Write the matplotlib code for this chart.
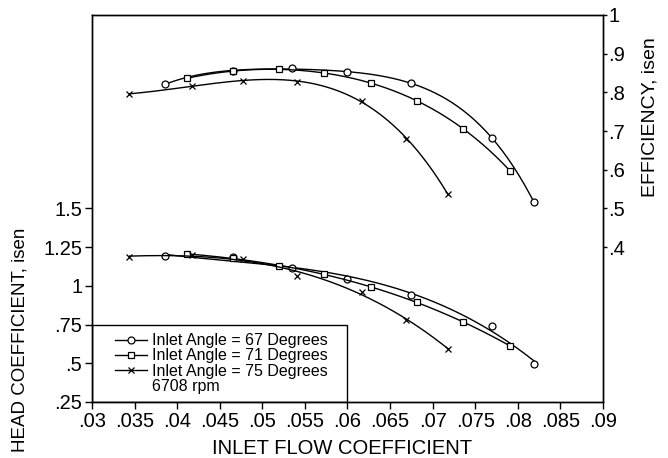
import numpy as np
import matplotlib.pyplot as plt
from matplotlib.patches import Rectangle

plt.rcParams['font.family'] = ['Liberation Sans', 'DejaVu Sans']

# inlet flow coefficient at each test point, per inlet angle
flow67 = [0.0386, 0.0465, 0.0535, 0.0599, 0.0675, 0.0770, 0.0819]
flow71 = [0.0411, 0.0465, 0.0519, 0.0573, 0.0628, 0.0682, 0.0736, 0.0791]
flow75 = [0.0344, 0.0418, 0.0477, 0.0541, 0.0617, 0.0669, 0.0718]

# isentropic head coefficient
head67 = [1.193, 1.185, 1.118, 1.045, 0.941, 0.743, 0.494]
head71 = [1.206, 1.180, 1.130, 1.075, 0.991, 0.894, 0.765, 0.612]
head75 = [1.189, 1.198, 1.172, 1.066, 0.963, 0.782, 0.592]

# isentropic efficiency
eff67 = [0.821, 0.856, 0.862, 0.852, 0.824, 0.681, 0.516]
eff71 = [0.836, 0.855, 0.860, 0.849, 0.824, 0.778, 0.705, 0.597]
eff75 = [0.796, 0.817, 0.830, 0.828, 0.778, 0.679, 0.537]

labels = ['Inlet Angle = 67 Degrees', 'Inlet Angle = 71 Degrees',
          'Inlet Angle = 75 Degrees']
rpm_text = '6708 rpm'

xticks = [0.03, 0.035, 0.04, 0.045, 0.05, 0.055, 0.06, 0.065, 0.07, 0.075,
          0.08, 0.085, 0.09]
xticklabels = ['.03', '.035', '.04', '.045', '.05', '.055', '.06', '.065',
               '.07', '.075', '.08', '.085', '.09']
hticks = [0.25, 0.5, 0.75, 1.0, 1.25, 1.5]
hticklabels = ['.25', '.5', '.75', '1', '1.25', '1.5']
eticks = [0.4, 0.5, 0.6, 0.7, 0.8, 0.9, 1.0]
eticklabels = ['.4', '.5', '.6', '.7', '.8', '.9', '1']


def fit(x, y, deg=3):
    p = np.polyfit(x, y, deg)
    xs = np.linspace(min(x), max(x), 200)
    return xs, np.polyval(p, xs)


fig = plt.figure(figsize=(6.68, 4.58), dpi=100)
ax = fig.add_axes([0.1377, 0.1223, 0.765, 0.845])
ax2 = ax.twinx()

sets = [(flow67, head67, eff67, 'o'), (flow71, head71, eff71, 's'),
        (flow75, head75, eff75, 'x')]
mk = dict(ms=5, mfc='white', mec='black', mew=0.9, ls='none')
for fl, hd, ef, m in sets:
    xs, ys = fit(fl, hd)
    ax.plot(xs, ys, color='black', lw=1)
    ax.plot(fl, hd, marker=m, **mk)
    xs, ys = fit(fl, ef, 4)
    ax2.plot(xs, ys, color='black', lw=1)
    ax2.plot(fl, ef, marker=m, **mk)

ax.set_xlim(0.03, 0.09)
ax.set_ylim(0.25, 2.75)
ax2.set_ylim(0, 1)
ax.set_xticks(xticks)
ax.set_xticklabels(xticklabels)
ax.set_yticks(hticks)
ax.set_yticklabels(hticklabels)
ax2.set_yticks(eticks)
ax2.set_yticklabels(eticklabels)
ax.tick_params(axis='both', direction='out', length=5, width=1,
               labelsize=14.5, pad=2)
ax2.tick_params(axis='y', direction='out', length=3, width=1,
                labelsize=14.5, pad=1)
for a in (ax, ax2):
    for s in a.spines.values():
        s.set_linewidth(1)

fig.text(342 / 668, 1 - 448 / 458, 'INLET FLOW COEFFICIENT', fontsize=14.5,
         ha='center', va='center')
fig.text(20 / 668, 1 - 340 / 458, 'HEAD COEFFICIENT, isen', fontsize=13.5,
         rotation=90, ha='center', va='center')
fig.text(650 / 668, 1 - 117 / 458, 'EFFICIENCY, isen', fontsize=14,
         rotation=90, ha='center', va='center')

# legend box in the lower left corner
ax2.add_patch(Rectangle((0, 0), 0.5, 0.2, transform=ax2.transAxes,
                        fill=False, lw=1, ec='black'))
handles = []
for (fl, hd, ef, m), lab in zip(sets, labels):
    h, = ax2.plot([], [], color='black', lw=1, marker=m, ms=5,
                  mfc='white', mec='black', mew=0.9, label=lab)
    handles.append(h)
h, = ax2.plot([], [], ls='none', label=rpm_text)
handles.append(h)
ax2.legend(handles=handles, loc='upper left', bbox_to_anchor=(0.045, 0.178),
           frameon=False, fontsize=11.5, handlelength=2.0, handletextpad=0.3,
           labelspacing=0.02, borderpad=0, borderaxespad=0, numpoints=1)

fig.savefig('out.png', dpi=100)
